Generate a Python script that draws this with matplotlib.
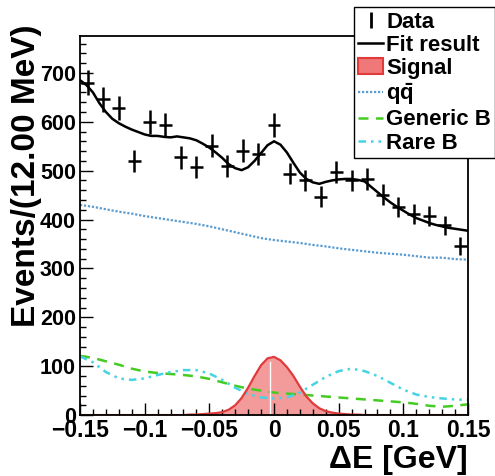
import numpy as np
import matplotlib
matplotlib.use('Agg')
import matplotlib.pyplot as plt
from matplotlib.lines import Line2D
from matplotlib.patches import Patch

plt.rcParams['font.family'] = ['Liberation Sans', 'DejaVu Sans']
plt.rcParams['font.weight'] = 'bold'
plt.rcParams['mathtext.fontset'] = 'custom'
plt.rcParams['mathtext.rm'] = 'Liberation Sans:bold'
plt.rcParams['mathtext.it'] = 'Liberation Sans:bold'
plt.rcParams['mathtext.bf'] = 'Liberation Sans:bold'

# %% data points (12 MeV bins)
data_x = np.arange(-0.144, 0.1441, 0.012)
data_y = [680, 646, 628, 520, 599, 594, 527, 507, 551, 510, 541, 534, 594,
          494, 480, 447, 497, 480, 483, 451, 425, 412, 407, 388, 345]

# %% background components, 10 MeV grid
bkg_x = np.round(np.arange(-0.15, 0.1501, 0.01), 3)
qq_y = [430, 426, 421, 416, 412, 407, 403, 399, 395, 391, 386, 380, 374, 368, 362, 358,
        355, 352, 348, 345, 341, 338, 335, 332, 330, 328, 325, 322, 322, 319, 318]
generic_y = [121, 117, 110, 103, 95, 89, 86, 84, 82, 79, 74, 67, 60, 54, 50, 46,
             44, 42, 40, 38, 36, 34, 32, 30, 28, 26, 23, 19, 17, 19, 22]
rare_y = [120, 108, 88, 75, 72, 75, 82, 88, 92, 92, 85, 72, 56, 43, 36, 34,
          36, 46, 62, 78, 90, 95, 90, 80, 66, 52, 42, 37, 34, 32, 31]

# %% signal
sig_x = [-0.15, -0.07, -0.065, -0.06, -0.055, -0.05, -0.045, -0.04, -0.035, -0.03, -0.025,
         -0.02, -0.015, -0.01, -0.005, 0.0, 0.005, 0.01, 0.015, 0.02, 0.025, 0.03, 0.035,
         0.04, 0.045, 0.05, 0.055, 0.06, 0.065, 0.07, 0.15]
sig_y = [0, 0, 1, 1, 2, 3, 4, 6, 11, 20, 35, 56, 80, 102, 116, 119, 112, 98, 80, 58, 38,
         24, 14, 8, 5, 3, 2, 1, 1, 0, 0]

# %% fit result, 5 MeV grid
fit_x = np.round(np.arange(-0.15, 0.1501, 0.005), 3)
fit_y = [685, 675, 660, 638, 620, 606, 597, 590, 584, 579, 574, 571, 571, 569, 568, 570,
         568, 566, 562, 555, 547, 537, 526, 513, 505, 501, 507, 520, 536, 552, 560, 553,
         537, 516, 496, 483, 476, 473, 477, 480, 482, 483, 483, 481, 478, 467, 456, 445,
         435, 426, 418, 410, 403, 398, 393, 389, 386, 383, 381, 379, 377]

# %% plot
fig = plt.figure(figsize=(4.95, 4.76), dpi=100)
ax = fig.add_axes([0.1616, 0.128, 0.7839, 0.796])

ax.plot(bkg_x, qq_y, color='#5a9bd0', lw=1.6, ls=(0, (1, 0.8)))
ax.plot(bkg_x, generic_y, color='#44cc22', lw=1.8, ls=(0, (4, 3)))
ax.plot(bkg_x, rare_y, color='#44d4e4', lw=1.8, ls=(0, (3, 2, 1, 2, 1, 2)))
ax.fill_between(sig_x, 0, sig_y, color='#f07878', alpha=0.75, lw=0)
ax.plot(sig_x, sig_y, color='#e03a3a', lw=1.6)
ax.plot([-0.003, -0.003], [0, 108], color='white', lw=1.0)
ax.plot(fit_x, fit_y, color='black', lw=1.8)
ax.errorbar(data_x, data_y, yerr=np.sqrt(data_y), xerr=0.005, fmt='none',
            ecolor='black', elinewidth=1.8, capsize=0)

ax.set_xlim(-0.15, 0.15)
ax.set_ylim(0, 775)
ax.set_xticks([-0.15, -0.1, -0.05, 0, 0.05, 0.1, 0.15])
ax.set_xticklabels(['\u22120.15', '\u22120.1', '\u22120.05', '0', '0.05', '0.1', '0.15'])
ax.set_xticks(np.arange(-0.15, 0.151, 0.01), minor=True)
ax.set_yticks(np.arange(0, 701, 100))
ax.set_yticks(np.arange(0, 775, 20), minor=True)
ax.tick_params(which='both', direction='in', top=False, right=False, width=1)
ax.tick_params(which='major', length=9, pad=3)
ax.tick_params(which='minor', length=4.5)
ax.tick_params(axis='x', labelsize=16.5)
ax.tick_params(axis='y', labelsize=15.5)
for s in ax.spines.values():
    s.set_linewidth(1.3)

ax.set_xlabel('\u0394E [GeV]', fontsize=23, fontweight='bold', loc='right', labelpad=2)
ax.set_ylabel('Events/(12.00 MeV)', fontsize=24, fontweight='bold', loc='top')
ax.yaxis.set_label_coords(-0.098, 1.03)

handles = [
    Line2D([], [], color='black', marker='|', ls='none', markersize=12, mew=2),
    Line2D([], [], color='black', lw=1.8),
    Patch(facecolor='#f07878', edgecolor='#e03a3a', lw=1.5),
    Line2D([], [], color='#5a9bd0', lw=1.6, ls=(0, (1, 0.8))),
    Line2D([], [], color='#44cc22', lw=1.8, ls=(0, (4, 3))),
    Line2D([], [], color='#44d4e4', lw=1.8, ls=(0, (3, 2, 1, 2, 1, 2))),
]
labels = ['Data', 'Fit result', 'Signal', r'$q\bar{q}$', 'Generic B', 'Rare B']
leg = fig.legend(handles, labels, loc='upper left', bbox_to_anchor=(0.715, 0.985),
                 fontsize=16, frameon=True, fancybox=False, edgecolor='black',
                 framealpha=1, handlelength=1.1, handletextpad=0.15, labelspacing=0.1,
                 borderpad=0.2, borderaxespad=0)
leg.get_frame().set_linewidth(1.0)
for t in leg.get_texts():
    t.set_fontweight('bold')

fig.savefig('out.png', dpi=100)
